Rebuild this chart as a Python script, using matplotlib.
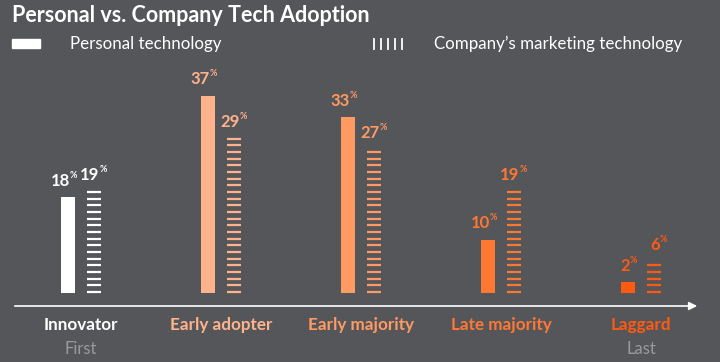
import matplotlib
matplotlib.use('Agg')
import matplotlib.pyplot as plt
from matplotlib.patches import Rectangle

# Dados
categorias = ['Innovator', 'Early adopter', 'Early majority', 'Late majority', 'Laggard']
pessoal = [18, 37, 33, 10, 2]
empresa = [19, 29, 27, 19, 6]
cores = ['#FFFFFF', '#FFB38C', '#FF9A62', '#FF7833', '#FF5A12']
sub_rotulos = {0: 'First', 4: 'Last'}

fundo = '#55565A'
plt.rcParams['font.family'] = ['Lato', 'DejaVu Sans']

fig = plt.figure(figsize=(7.2, 3.62), dpi=100)
fig.patch.set_facecolor(fundo)
ax = fig.add_axes([12/720, 56/362, 688/720, 246/362])
ax.set_facecolor(fundo)
ax.set_xlim(-0.493, 4.421)
ax.set_ylim(-2.44, 43.7)
for s in ax.spines.values():
    s.set_visible(False)
ax.set_xticks([])
ax.set_yticks([])

desloc = 0.093
larg = 0.1
passo = 1.25  # espaco entre tracos (em %)

for i in range(len(categorias)):
    c = cores[i]
    # barra solida
    ax.bar(i - desloc, pessoal[i], width=larg, color=c, linewidth=0)
    # barra tracejada
    y = 0.2
    ys = []
    while y <= empresa[i]:
        ys.append(y)
        y += passo
    ax.hlines(ys, i + desloc - larg/2, i + desloc + larg/2, colors=c, linewidth=1.6)

    # rotulos de valor
    for j, (xv, v) in enumerate([(i - desloc, pessoal[i]), (i + desloc, empresa[i])]):
        dx = 1.5 if j == 0 else 4.0
        ax.annotate(str(v), (xv, v), xytext=(dx, 6), textcoords='offset points',
                    ha='right', va='bottom', color=c, fontsize=12, fontweight='bold')
        ax.annotate('%', (xv, v), xytext=(dx, 12.5), textcoords='offset points',
                    ha='left', va='bottom', color=c, fontsize=6.5, fontweight='bold')

    # categoria
    ax.annotate(categorias[i], (i, 0), xycoords=('data', 'axes fraction'),
                xytext=(0, -14), textcoords='offset points', ha='center', va='center',
                color=c, fontsize=12.3, fontweight='bold')
    if i in sub_rotulos:
        ax.annotate(sub_rotulos[i], (i, 0), xycoords=('data', 'axes fraction'),
                    xytext=(0, -31), textcoords='offset points', ha='center', va='center',
                    color='#9A9A9C', fontsize=12)

# eixo com seta
ax.annotate('', xy=(1, 0), xytext=(0, 0), xycoords='axes fraction',
            arrowprops=dict(arrowstyle='-|>', color='white', lw=1.2,
                            mutation_scale=12), annotation_clip=False)

# titulo
fig.text(12/720, 1 - 16/362, 'Personal vs. Company Tech Adoption', color='white',
         fontsize=15.5, fontweight='bold', ha='left', va='center')

# legenda
fig.patches.append(Rectangle((12/720, 1 - 48/362), 28/720, 9/362, color='white',
                             transform=fig.transFigure, figure=fig))
fig.text(70/720, 1 - 44/362, 'Personal technology', color='white', fontsize=12.2,
         ha='left', va='center')
for k in range(5):
    xk = (374 + k * 7) / 720
    fig.add_artist(plt.Line2D([xk, xk], [1 - 49/362, 1 - 39/362], color='white',
                              lw=1.3, transform=fig.transFigure))
fig.text(434/720, 1 - 44/362, 'Company\u2019s marketing technology', color='white',
         fontsize=12.2, ha='left', va='center')

fig.savefig('out.png', dpi=100, facecolor=fundo)
